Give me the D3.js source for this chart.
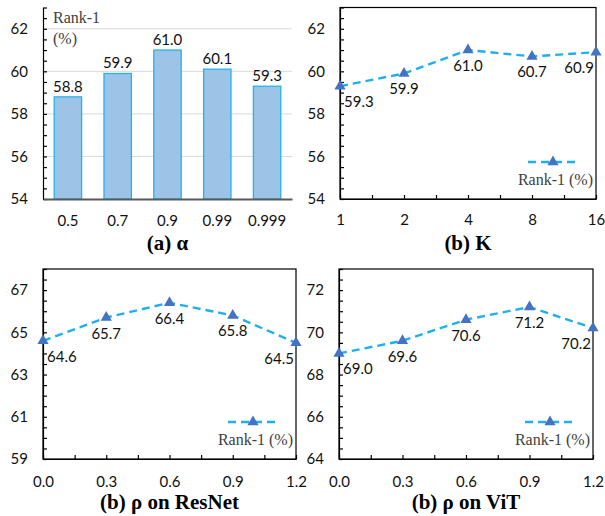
<!DOCTYPE html>
<html>
<head>
<meta charset="utf-8">
<script src="https://cdn.jsdelivr.net/npm/d3@7"></script>
<style>
  body { margin: 0; background: #fff; }
  svg.vis { display: block; }
  .num { font-family: Lato, "Open Sans", sans-serif; font-size: 15px; fill: #111; }
  .serif { font-family: "Liberation Serif", "DejaVu Serif", serif; }
</style>
</head>
<body>
<svg class="vis" width="605" height="516"></svg>
<script>

// (a) alpha - bars
const alpha_cats = ["0.5", "0.7", "0.9", "0.99", "0.999"];
const alpha_vals = [58.8, 59.9, 61.0, 60.1, 59.3];

// (b) K
const k_cats = ["1", "2", "4", "8", "16"];
const k_vals = [59.3, 59.9, 61.0, 60.7, 60.9];

// (c) rho on ResNet, (d) rho on ViT
const rho_x = [0.0, 0.3, 0.6, 0.9, 1.2];
const resnet_vals = [64.6, 65.7, 66.4, 65.8, 64.5];
const vit_vals = [69.0, 69.6, 70.6, 71.2, 70.2];

const titles = ["(a) \u03b1", "(b) K", "(b) \u03c1 on ResNet", "(b) \u03c1 on ViT"];
const legend_label = "Rank-1 (%)";

const vis = {

    sels: { svg: null },

    colors: {
        bar_fill: "#9dc3e6",
        bar_stroke: "#1fb4ef",
        line: "#1eb0ee",
        marker: "#4472c4",
        grid: "#d9d9d9",
        legend_text: "#404040"
    },

    init: function() {
        vis.sels.svg = d3.select("svg.vis");
        vis.draw.bars();
        vis.draw.line_panel({
            box: { l: 340, r: 596, t: 7.5, b: 199 },
            ydom: [54, 63], ystart: 54,
            x: d3.scaleLinear().domain([0, 4]),
            xs: d3.range(5), vals: k_vals,
            xticks: d3.range(0, 4.01, 0.5),
            xfmt: d => Number.isInteger(d) ? k_cats[d] : "",
            xpad: 15, title: titles[1], title_y: 250
        });
        vis.draw.line_panel({
            box: { l: 43, r: 296, t: 269, b: 459 },
            ydom: [59, 68], ystart: 59,
            x: d3.scaleLinear().domain([0, 1.2]),
            xs: rho_x, vals: resnet_vals,
            xticks: d3.range(9).map(i => i * 0.15),
            xfmt: d => Math.round(d / 0.15) % 2 === 0 ? d3.format(".1f")(d) : "",
            xpad: 17, title: titles[2], title_y: 509
        });
        vis.draw.line_panel({
            box: { l: 339, r: 593, t: 269, b: 459 },
            ydom: [64, 73], ystart: 64,
            x: d3.scaleLinear().domain([0, 1.2]),
            xs: rho_x, vals: vit_vals,
            xticks: d3.range(9).map(i => i * 0.15),
            xfmt: d => Math.round(d / 0.15) % 2 === 0 ? d3.format(".1f")(d) : "",
            xpad: 17, title: titles[3], title_y: 509
        });
    },

    f: {
        // y axis with minor ticks every 0.5, labels every 2
        y_axis: function(g, y, start) {
            const vals = d3.range(y.domain()[0], y.domain()[1] + 0.01, 0.5);
            g.call(d3.axisLeft(y)
                .tickValues(vals)
                .tickSizeInner(-4)
                .tickSizeOuter(0)
                .tickPadding(15)
                .tickFormat(d => (Number.isInteger(d) && (d - start) % 2 === 0 && d < y.domain()[1]) ? d : ""));
            g.select(".domain").attr("stroke", "#000").attr("stroke-width", 1.2);
            g.selectAll(".tick line").attr("stroke", "#000").attr("stroke-width", 1.2);
            g.selectAll(".tick text").attr("class", "num").attr("font-size", null).attr("font-family", null);
        },

        title: function(text, cx, y) {
            vis.sels.svg.append("text")
                .attr("class", "serif")
                .attr("x", cx).attr("y", y)
                .attr("text-anchor", "middle")
                .attr("font-size", 21).attr("font-weight", "bold")
                .attr("fill", "#000")
                .text(text);
        }
    },

    draw: {

        bars: function() {
            const svg = vis.sels.svg;
            const box = { l: 43, r: 292, t: 7.5, b: 199 };

            const x = d3.scaleBand().domain(alpha_cats).range([box.l, box.r]).paddingInner(0.45).paddingOuter(0.225);
            const y = d3.scaleLinear().domain([54, 63]).range([box.b, box.t]);

            // gridlines
            svg.append("g")
              .selectAll("line")
              .data([56, 58, 60, 62])
              .join("line")
              .attr("x1", box.l).attr("x2", box.r)
              .attr("y1", d => y(d)).attr("y2", d => y(d))
              .attr("stroke", vis.colors.grid).attr("stroke-width", 1);

            svg.append("g")
              .selectAll("rect")
              .data(alpha_vals)
              .join("rect")
              .attr("x", (d, i) => x(alpha_cats[i]))
              .attr("y", d => y(d))
              .attr("width", x.bandwidth())
              .attr("height", d => y(54) - y(d))
              .attr("fill", vis.colors.bar_fill)
              .attr("stroke", vis.colors.bar_stroke)
              .attr("stroke-width", 1.3);

            svg.append("g")
              .selectAll("text")
              .data(alpha_vals)
              .join("text")
              .attr("class", "num")
              .attr("x", (d, i) => x(alpha_cats[i]) + x.bandwidth() / 2)
              .attr("y", d => y(d) - 5)
              .attr("text-anchor", "middle")
              .text(d => d3.format(".1f")(d));

            const gy = svg.append("g").attr("transform", `translate(${box.l},0)`);
            vis.f.y_axis(gy, y, 54);

            const gx = svg.append("g").attr("transform", `translate(0,${box.b})`);
            gx.call(d3.axisBottom(x).tickSize(0).tickPadding(16));
            gx.select(".domain").attr("stroke", "#595959").attr("stroke-width", 2.2);
            gx.selectAll(".tick text").attr("class", "num").attr("font-size", null).attr("font-family", null);

            svg.append("text").attr("class", "serif")
              .attr("x", 53).attr("y", 22.5)
              .attr("font-size", 16).attr("fill", vis.colors.legend_text)
              .text("Rank-1");
            svg.append("text").attr("class", "serif")
              .attr("x", 53).attr("y", 43.5)
              .attr("font-size", 16).attr("fill", vis.colors.legend_text)
              .text("(%)");

            vis.f.title(titles[0], (box.l + box.r) / 2, 250);
        },

        line_panel: function(p) {
            const svg = vis.sels.svg;
            const box = p.box;
            const x = p.x.range([box.l, box.r]);
            const y = d3.scaleLinear().domain(p.ydom).range([box.b, box.t]);
            const g = svg.append("g");

            // frame
            g.append("rect")
              .attr("x", box.l).attr("y", box.t)
              .attr("width", box.r - box.l).attr("height", box.b - box.t)
              .attr("fill", "none").attr("stroke", "#000").attr("stroke-width", 1.2);

            const gy = g.append("g").attr("transform", `translate(${box.l},0)`);
            vis.f.y_axis(gy, y, p.ystart);

            const gx = g.append("g").attr("transform", `translate(0,${box.b})`);
            gx.call(d3.axisBottom(x)
                .tickValues(p.xticks)
                .tickSizeInner(-4)
                .tickSizeOuter(0)
                .tickPadding(p.xpad)
                .tickFormat(p.xfmt));
            gx.select(".domain").attr("stroke", "#000").attr("stroke-width", 1.2);
            gx.selectAll(".tick line").attr("stroke", "#000").attr("stroke-width", 1.2);
            gx.selectAll(".tick text").attr("class", "num").attr("font-size", null).attr("font-family", null);

            const pts = p.vals.map((v, i) => [x(p.xs[i]), y(v)]);

            g.append("path")
              .datum(pts)
              .attr("d", d3.line())
              .attr("fill", "none")
              .attr("stroke", vis.colors.line)
              .attr("stroke-width", 2.4)
              .attr("stroke-dasharray", "8,5");

            const tri = d3.symbol().type(d3.symbolTriangle).size(54);

            g.append("g")
              .selectAll("path")
              .data(pts)
              .join("path")
              .attr("d", tri)
              .attr("transform", d => `translate(${d[0]},${d[1]})`)
              .attr("fill", vis.colors.marker);

            const n = pts.length;
            g.append("g")
              .selectAll("text")
              .data(p.vals)
              .join("text")
              .attr("class", "num")
              .attr("x", (d, i) => i === 0 ? pts[i][0] + 4 : (i === n - 1 ? pts[i][0] - 2 : pts[i][0]))
              .attr("y", (d, i) => pts[i][1] + 21)
              .attr("text-anchor", (d, i) => i === 0 ? "start" : (i === n - 1 ? "end" : "middle"))
              .text(d => d3.format(".1f")(d));

            // legend
            const ly = box.b - 37;
            g.append("line")
              .attr("x1", box.r - 68).attr("x2", box.r - 17)
              .attr("y1", ly).attr("y2", ly)
              .attr("stroke", vis.colors.line)
              .attr("stroke-width", 2.4)
              .attr("stroke-dasharray", "8,5");
            g.append("path")
              .attr("d", tri)
              .attr("transform", `translate(${box.r - 43},${ly})`)
              .attr("fill", vis.colors.marker);
            g.append("text").attr("class", "serif")
              .attr("x", box.r - 3).attr("y", box.b - 14)
              .attr("text-anchor", "end")
              .attr("font-size", 16).attr("fill", vis.colors.legend_text)
              .text(legend_label);

            vis.f.title(p.title, (box.l + box.r) / 2, p.title_y);
        }
    }
};

vis.init();
</script>
</body>
</html>
